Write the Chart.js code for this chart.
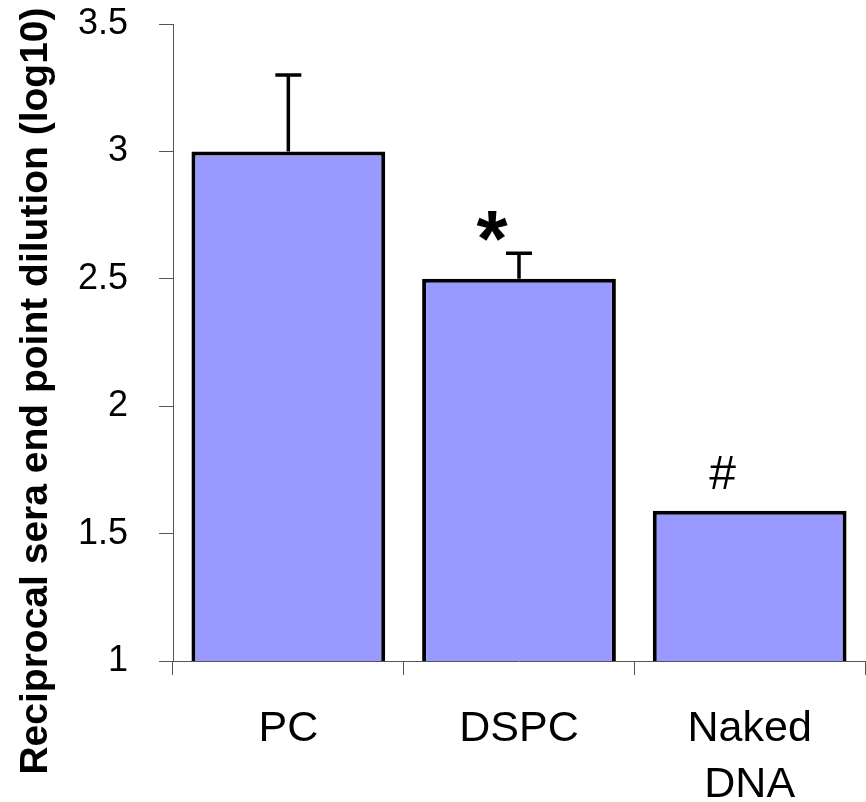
<!DOCTYPE html>
<html>
<head>
<meta charset="utf-8">
<script src="https://cdn.jsdelivr.net/npm/chart.js@4.4.1/dist/chart.umd.min.js"></script>
<style>
  html, body { margin: 0; padding: 0; background: #fff; }
  canvas { display: block; }
</style>
</head>
<body>
<canvas id="chart" width="866" height="802"></canvas>
<script>
/* ─── Data ───────────────────────────────────── */
const categories = [['PC'], ['DSPC'], ['Naked', 'DNA']];
const meanValues = [3.0, 2.5, 1.59];
const errorValues = [0.3, 0.1, 0.0];
const markers = ['', '*', '#'];
const yTicks = [1, 1.5, 2, 2.5, 3, 3.5];
const yTitle = 'Reciprocal sera end point dilution (log10)';

Chart.defaults.font.family = "'Liberation Sans', Arial, sans-serif";
Chart.defaults.color = '#000';

/* ─── Error bars + significance marks ─────────── */
// gap = distance from top of bar/error cap to the glyph's visual centre
const markStyle = {
  '*': { font: "bold 80px 'Liberation Sans', Arial", gap: 27 },
  '#': { font: "48px 'Liberation Sans', Arial", gap: 38 }
};

const errorBarPlugin = {
  id: 'errorBars',
  afterDatasetsDraw(chart) {
    const { ctx, scales: { y } } = chart;
    const meta = chart.getDatasetMeta(0);
    ctx.save();
    meta.data.forEach((bar, i) => {
      const yTop = y.getPixelForValue(meanValues[i] + errorValues[i]);
      if (errorValues[i] > 0) {
        ctx.strokeStyle = '#000';
        ctx.lineWidth = 3.5;
        ctx.beginPath();
        ctx.moveTo(bar.x, bar.y);
        ctx.lineTo(bar.x, yTop);
        ctx.moveTo(bar.x - 13, yTop);
        ctx.lineTo(bar.x + 13, yTop);
        ctx.stroke();
      }
      const m = markers[i];
      if (m) {
        const st = markStyle[m];
        ctx.font = st.font;
        ctx.fillStyle = '#000';
        ctx.textAlign = 'center';
        ctx.textBaseline = 'alphabetic';
        const tm = ctx.measureText(m);
        const mid = (tm.actualBoundingBoxAscent - tm.actualBoundingBoxDescent) / 2;
        ctx.fillText(m, bar.x - 27, yTop - st.gap + mid);
      }
    });
    ctx.restore();
  }
};

/* y title sits centred on the whole canvas height, not just the plot */
const yTitlePlugin = {
  id: 'yTitle',
  afterDraw(chart) {
    const { ctx, height } = chart;
    ctx.save();
    ctx.translate(36, height / 2 - 10);
    ctx.rotate(-Math.PI / 2);
    ctx.font = "bold 39px 'Liberation Sans', Arial";
    ctx.fillStyle = '#000';
    ctx.textAlign = 'center';
    ctx.textBaseline = 'middle';
    ctx.fillText(yTitle, 0, 0);
    ctx.restore();
  }
};

/* ─── Chart ──────────────────────────────────── */
new Chart(document.getElementById('chart'), {
  type: 'bar',
  data: {
    labels: categories,
    datasets: [{
      data: meanValues,
      backgroundColor: '#9999FF',
      borderColor: '#000',
      borderWidth: 4,
      borderSkipped: false,
      barPercentage: 0.84,
      categoryPercentage: 1.0
    }]
  },
  options: {
    responsive: false,
    animation: false,
    layout: { padding: { top: 24, right: 1, left: 0, bottom: 0 } },
    plugins: {
      legend: { display: false },
      tooltip: { enabled: false }
    },
    scales: {
      x: {
        offset: true,
        grid: { offset: true, drawOnChartArea: false, tickLength: 14, color: '#555' },
        border: { color: '#555', width: 1 },
        ticks: { font: { size: 43, lineHeight: 1.3 }, padding: 26, maxRotation: 0 },
        afterFit(scale) { scale.height = 141; }
      },
      y: {
        min: 1,
        max: 3.5,
        afterBuildTicks(scale) { scale.ticks = yTicks.map(v => ({ value: v })); },
        grid: { drawOnChartArea: false, tickLength: 14, color: '#555' },
        border: { color: '#555', width: 1 },
        ticks: { font: { size: 36 }, padding: 31, callback: v => String(v) },
        afterFit(scale) {
          scale.width = 173;
          scale.paddingTop = 0;
          scale.paddingBottom = 0;
        }
      }
    }
  },
  plugins: [errorBarPlugin, yTitlePlugin]
});
</script>
</body>
</html>
